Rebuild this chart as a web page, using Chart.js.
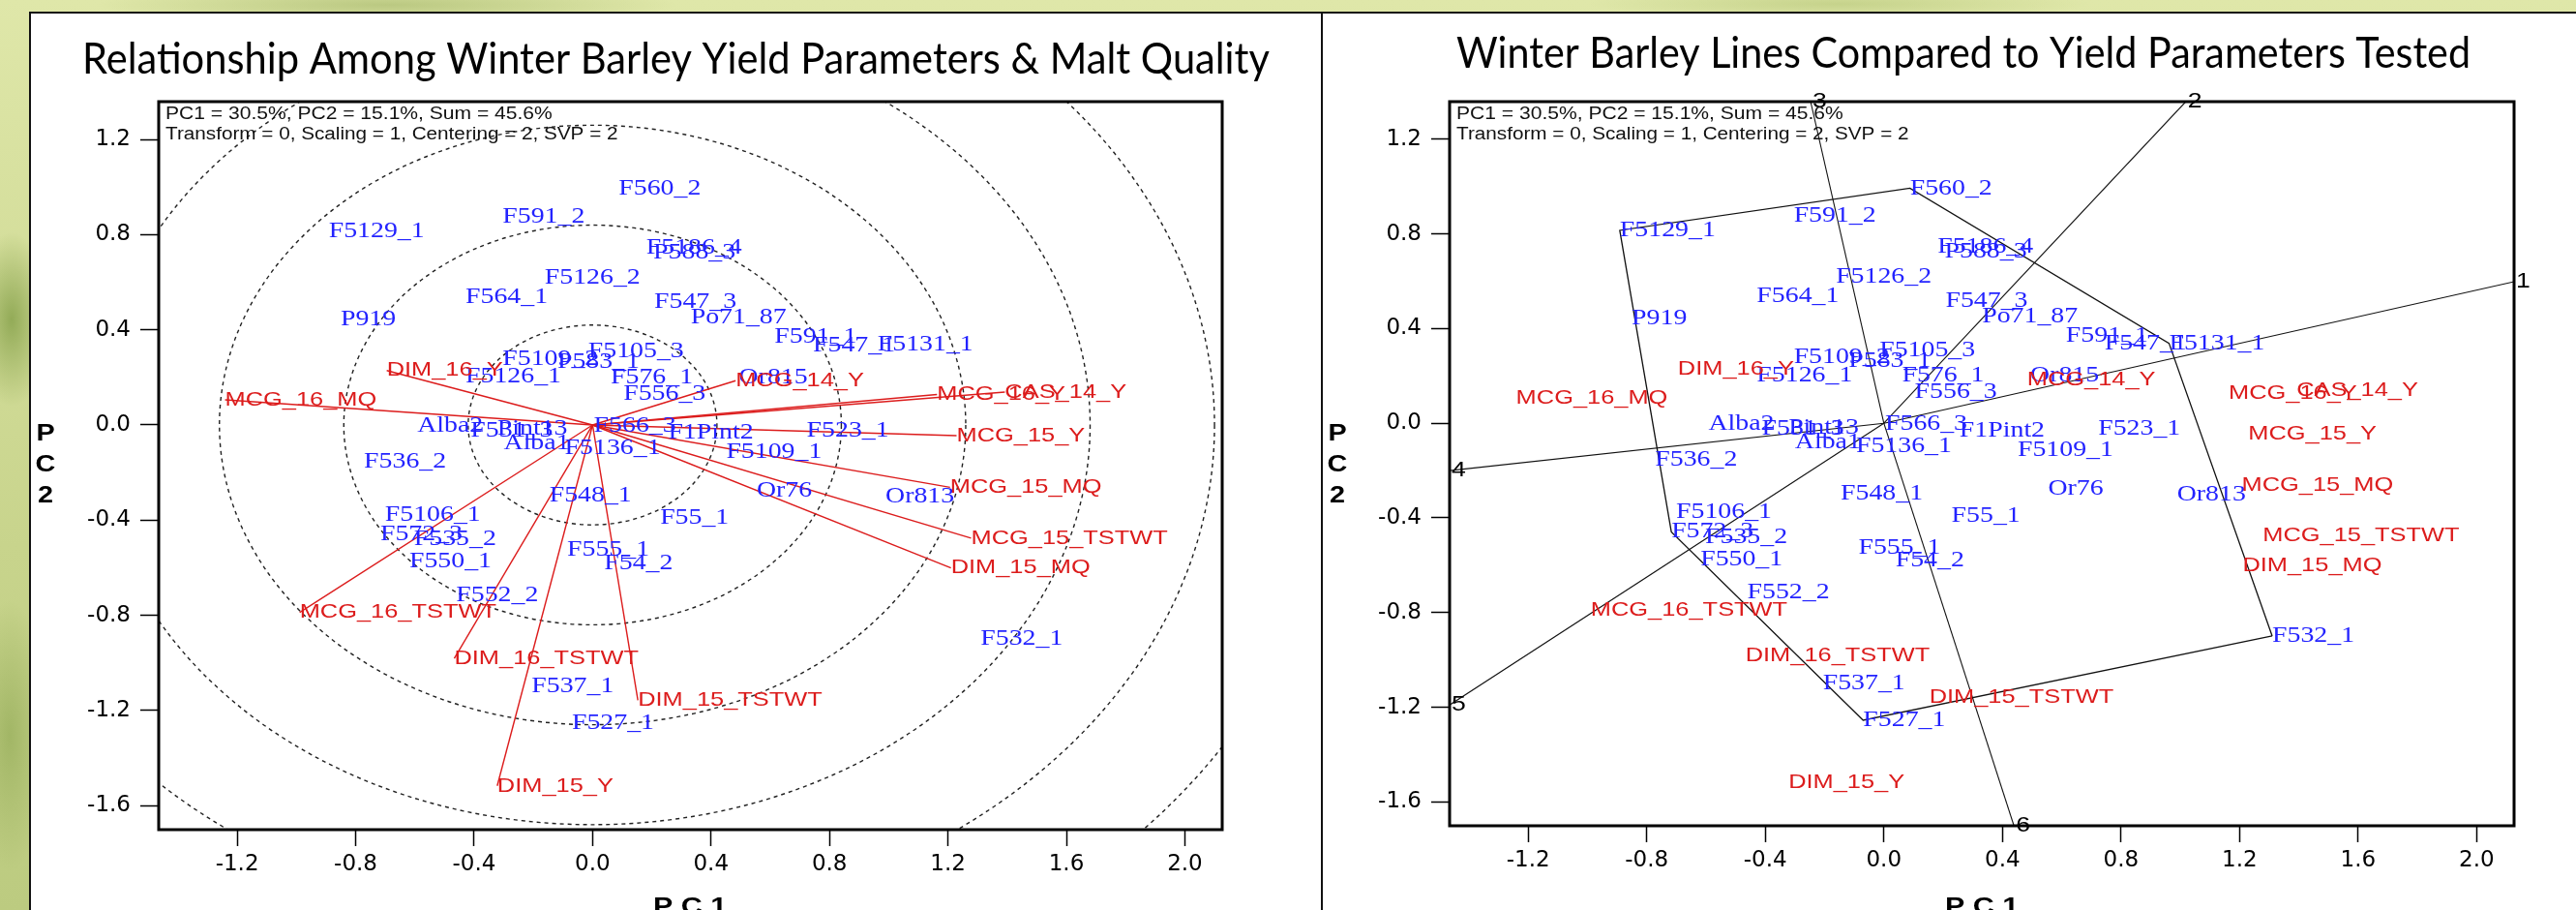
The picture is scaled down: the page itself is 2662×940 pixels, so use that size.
<!DOCTYPE html>
<html>
<head>
<meta charset="utf-8">
<script src="https://cdn.jsdelivr.net/npm/chart.js@4.4.1/dist/chart.umd.min.js"></script>
<style>
  html, body { margin: 0; padding: 0; }
  body {
    width: 2662px; height: 940px; overflow: hidden; position: relative;
    background:
      radial-gradient(ellipse 40px 90px at 12px 330px, rgba(120,150,60,.7), rgba(120,150,60,0)),
      radial-gradient(ellipse 40px 140px at 10px 760px, rgba(140,165,80,.6), rgba(140,165,80,0)),
      radial-gradient(ellipse 300px 20px at 400px 5px, rgba(150,170,90,.5), rgba(150,170,90,0)),
      radial-gradient(ellipse 260px 16px at 1900px 4px, rgba(160,180,95,.4), rgba(160,180,95,0)),
      linear-gradient(180deg, #dfe7a9 0%, #c8d48c 60%, #bccb80 100%);
  }
  canvas { position: absolute; }
  #left  { left: 30px;   top: 12px; }
  #right { left: 1365px; top: 12px; }
</style>
</head>
<body>
<canvas id="left" width="1336" height="928"></canvas>
<canvas id="right" width="1297" height="928"></canvas>
<script>
// ── Axes ──────────────────────────────────────────────────
const X_MIN = -1.465, X_MAX = 2.126, Y_MIN = -1.701, Y_MAX = 1.359;
const X_TICKS = [-1.2, -0.8, -0.4, 0, 0.4, 0.8, 1.2, 1.6, 2.0];
const Y_TICKS = [-1.6, -1.2, -0.8, -0.4, 0, 0.4, 0.8, 1.2];

// ── Genotypes (blue) ──────────────────────────────────────
const GENO_NAMES = ['F5129_1','F591_2','F560_2','F5186_4','P588_3','F5126_2','F564_1','F547_3','Po71_87','P919',
  'F591_1','F547_1','F5131_1','F5105_3','F5109_2','P583_1','F5126_1','F576_1','Or815','F556_3',
  'Alba2','F531_3','Pint13','F566_3','F1Pint2','Alba1','F5136_1','F523_1','F5109_1','F536_2',
  'F548_1','Or76','Or813','F5106_1','F55_1','F572_3','F535_2','F555_1','F550_1','F54_2',
  'F552_2','F532_1','F537_1','F527_1'];
const GENO_X = [-0.891,-0.304,0.088,0.181,0.205,-0.162,-0.429,0.208,0.331,-0.851,
  0.614,0.744,0.962,-0.015,-0.304,-0.119,-0.429,0.061,0.494,0.104,
  -0.592,-0.412,-0.322,0.004,0.255,-0.300,-0.094,0.723,0.451,-0.772,
  -0.146,0.554,0.989,-0.701,0.228,-0.717,-0.603,-0.086,-0.619,0.039,
  -0.461,1.310,-0.206,-0.070];
const GENO_Y = [0.815,0.875,0.993,0.745,0.726,0.617,0.538,0.518,0.450,0.444,
  0.369,0.335,0.338,0.308,0.278,0.264,0.202,0.200,0.200,0.131,
  -0.004,-0.024,-0.018,-0.004,-0.033,-0.079,-0.099,-0.024,-0.113,-0.153,
  -0.296,-0.278,-0.300,-0.377,-0.391,-0.459,-0.481,-0.526,-0.574,-0.581,
  -0.716,-0.899,-1.100,-1.255];

// ── Traits (red vectors) ──────────────────────────────────
const TRAIT_NAMES = ['MCG_16_MQ','DIM_16_Y','MCG_14_Y','MCG_16_Y','CAS_14_Y','MCG_15_Y','MCG_15_MQ',
  'MCG_15_TSTWT','DIM_15_MQ','DIM_15_TSTWT','DIM_15_Y','DIM_16_TSTWT','MCG_16_TSTWT'];
const TRAIT_X = [-1.241,-0.695,0.483,1.163,1.392,1.229,1.207,1.278,1.210,0.153,-0.322,-0.467,-0.989];
const TRAIT_Y = [0.106,0.229,0.186,0.128,0.138,-0.045,-0.262,-0.476,-0.601,-1.157,-1.517,-0.981,-0.788];

// ── Concentric circles, polygon ───────────────────────────
const CIRCLE_R = [0.42, 0.84, 1.26, 1.68, 2.10, 2.52];
const HULL = ['F532_1','F5131_1','F560_2','F5129_1','F572_3','F527_1'];

const INFO = ['PC1 = 30.5%, PC2 = 15.1%, Sum = 45.6%', 'Transform = 0, Scaling = 1, Centering = 2, SVP = 2'];
const TITLES = ['Relationship Among Winter Barley Yield Parameters & Malt Quality',
                'Winter Barley Lines Compared to Yield Parameters Tested'];

const BLUE = '#2323ff', RED = '#dc1c1c';
const SX = 1.21; // source picture is stretched sideways

const genoPts  = GENO_NAMES.map((n, i) => ({ x: GENO_X[i], y: GENO_Y[i] }));
const traitPts = TRAIT_NAMES.map((n, i) => ({ x: TRAIT_X[i], y: TRAIT_Y[i] }));

function txt(ctx, s, x, y, font, color, sx, align = 'left', base = 'middle') {
  ctx.save();
  ctx.font = font; ctx.fillStyle = color;
  ctx.textAlign = align; ctx.textBaseline = base;
  ctx.translate(x, y); ctx.scale(sx, 1);
  ctx.fillText(s, 0, 0);
  ctx.restore();
}

// ray from origin, perpendicular to hull side a-b, out to the plot edge
function rayEnd(a, b) {
  const ex = b.x - a.x, ey = b.y - a.y;
  const t = -(a.x * ex + a.y * ey) / (ex * ex + ey * ey);
  const dx = a.x + t * ex, dy = a.y + t * ey;
  const sx = dx === 0 ? Infinity : (dx > 0 ? X_MAX : X_MIN) / dx;
  const sy = dy === 0 ? Infinity : (dy > 0 ? Y_MAX : Y_MIN) / dy;
  const s = Math.min(sx, sy);
  return { x: dx * s, y: dy * s };
}

// ── Drawing plugin (titles, circles, labels) ──────────────
const biplotPlugin = {
  id: 'biplot',
  beforeDraw(chart) {
    const { ctx, width, height } = chart;
    ctx.save();
    ctx.fillStyle = '#fff';
    ctx.fillRect(0, 0, width, height);
    ctx.restore();
  },
  beforeDatasetsDraw(chart) {
    const o = chart.options.plugins.biplot;
    if (!o.circles) return;
    const { ctx, chartArea: a, scales: { x, y } } = chart;
    const cx = x.getPixelForValue(0), cy = y.getPixelForValue(0);
    const kx = x.getPixelForValue(1) - cx, ky = cy - y.getPixelForValue(1);
    ctx.save();
    ctx.beginPath(); ctx.rect(a.left, a.top, a.width, a.height); ctx.clip();
    ctx.strokeStyle = '#222'; ctx.lineWidth = 1.4; ctx.setLineDash([4, 4]);
    CIRCLE_R.forEach(r => {
      ctx.beginPath();
      ctx.ellipse(cx, cy, r * kx, r * ky, 0, 0, Math.PI * 2);
      ctx.stroke();
    });
    ctx.restore();
  },
  afterDatasetsDraw(chart) {
    const o = chart.options.plugins.biplot;
    const { ctx, chartArea: a } = chart;

    // labels
    const gMeta = chart.getDatasetMeta(0), tMeta = chart.getDatasetMeta(1);
    ctx.save();
    ctx.beginPath(); ctx.rect(a.left, a.top, a.width, a.height); ctx.clip();
    gMeta.data.forEach((p, i) => txt(ctx, GENO_NAMES[i], p.x, p.y, '23px "Liberation Serif"', BLUE, SX));
    tMeta.data.forEach((p, i) => txt(ctx, TRAIT_NAMES[i], p.x, p.y, '21px "Liberation Sans"', RED, SX));
    ctx.restore();

    // ray numbers
    if (o.rays) {
      chart.data.datasets.forEach((ds, i) => {
        if (!ds.rayNo) return;
        const end = chart.getDatasetMeta(i).data[1];
        txt(ctx, String(ds.rayNo), end.x + 2, end.y, '22px "Liberation Sans"', '#000', SX);
      });
    }

    // info text
    txt(ctx, INFO[0], a.left + 7, a.top + 13, '18px "Liberation Sans"', '#111', 1.17);
    txt(ctx, INFO[1], a.left + 7, a.top + 34, '18px "Liberation Sans"', '#111', 1.15);

    // plot box
    ctx.save();
    ctx.strokeStyle = '#000'; ctx.lineWidth = 3;
    ctx.strokeRect(a.left, a.top, a.width, a.height);
    ctx.restore();

    // title, fitted to its span
    ctx.save();
    ctx.font = '44px Lato';
    const w = ctx.measureText(o.title).width;
    ctx.restore();
    txt(ctx, o.title, o.titleX0, o.titleBase, '44px Lato', '#000', (o.titleX1 - o.titleX0) / w, 'left', 'alphabetic');

    // axis titles
    txt(ctx, 'P C 1', 645, 913, 'bold 24px "Liberation Sans"', '#000', 1.27, 'left', 'top');
    ['P', 'C', '2'].forEach((c, i) =>
      txt(ctx, c, 17, 436 + i * 32, 'bold 24px "Liberation Sans"', '#000', 1.2, 'center', 'middle'));

    // panel frame
    ctx.save();
    ctx.strokeStyle = '#111'; ctx.lineWidth = 2;
    ctx.beginPath();
    ctx.moveTo(1, chart.height); ctx.lineTo(1, 1); ctx.lineTo(chart.width, 1);
    ctx.stroke();
    ctx.restore();
  }
};

function makeOptions(padRight, xHeight, extra) {
  return {
    responsive: false,
    animation: false,
    devicePixelRatio: 1,
    layout: { padding: { top: 93, right: padRight, left: 0, bottom: 0 } },
    plugins: { legend: { display: false }, tooltip: { enabled: false }, biplot: extra },
    scales: {
      x: {
        type: 'linear', min: X_MIN, max: X_MAX,
        afterFit: s => { s.height = xHeight; },
        afterBuildTicks: s => { s.ticks = X_TICKS.map(v => ({ value: v })); },
        grid: { drawOnChartArea: false, drawTicks: true, tickLength: 17, tickWidth: 1.5, tickColor: '#000' },
        border: { display: false },
        ticks: { color: '#000', font: { family: 'DejaVu Sans', size: 23 }, padding: 5,
                 autoSkip: false, maxRotation: 0, callback: v => v.toFixed(1) }
      },
      y: {
        type: 'linear', min: Y_MIN, max: Y_MAX,
        afterFit: s => { s.width = extra.yWidth; },
        afterBuildTicks: s => { s.ticks = Y_TICKS.map(v => ({ value: v })); },
        grid: { drawOnChartArea: false, drawTicks: true, tickLength: 19, tickWidth: 1.5, tickColor: '#000' },
        border: { display: false },
        ticks: { color: '#000', font: { family: 'DejaVu Sans', size: 23 }, padding: 10,
                 autoSkip: false, callback: v => v.toFixed(1) }
      }
    }
  };
}

const labelSets = () => [
  { data: genoPts,  pointRadius: 0, showLine: false },
  { data: traitPts, pointRadius: 0, showLine: false }
];

// ── Left: vector view ─────────────────────────────────────
new Chart(document.getElementById('left'), {
  type: 'scatter',
  data: {
    datasets: [
      ...labelSets(),
      ...traitPts.map(p => ({
        data: [{ x: 0, y: 0 }, p], showLine: true, pointRadius: 0,
        borderColor: RED, borderWidth: 1.4
      }))
    ]
  },
  options: makeOptions(103, 83, {
    circles: true, rays: false, yWidth: 134,
    title: TITLES[0], titleX0: 55, titleX1: 1282, titleBase: 64
  }),
  plugins: [biplotPlugin]
});

// ── Right: which-won-where polygon ────────────────────────
const hullPts = HULL.map(n => genoPts[GENO_NAMES.indexOf(n)]);
const rays = hullPts.map((a, i) => rayEnd(a, hullPts[(i + 1) % hullPts.length]));

new Chart(document.getElementById('right'), {
  type: 'scatter',
  data: {
    datasets: [
      ...labelSets(),
      { data: [...hullPts, hullPts[0]], showLine: true, pointRadius: 0, borderColor: '#111', borderWidth: 1.3 },
      ...rays.map((p, i) => ({
        rayNo: i + 1,
        data: [{ x: 0, y: 0 }, p], showLine: true, pointRadius: 0,
        borderColor: '#111', borderWidth: 1.1
      }))
    ]
  },
  options: makeOptions(64, 87, {
    circles: false, rays: true, yWidth: 133,
    title: TITLES[1], titleX0: 140, titleX1: 1188, titleBase: 58
  }),
  plugins: [biplotPlugin]
});
</script>
</body>
</html>
